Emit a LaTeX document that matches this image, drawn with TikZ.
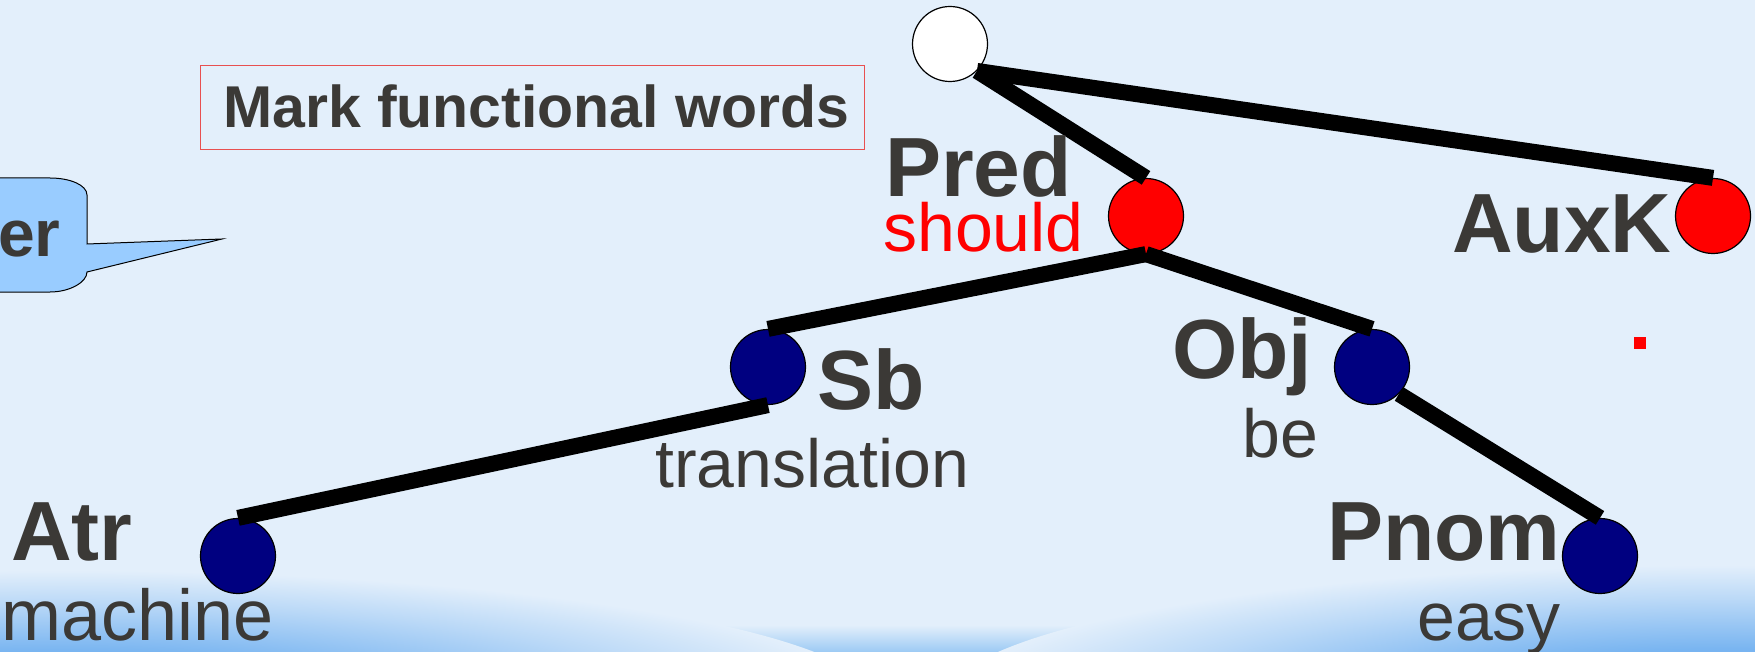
\documentclass[tikz,border=0pt]{standalone}
\usepackage{fontspec}
\setmainfont{Liberation Sans}
\definecolor{bgc}{HTML}{E3EFFB}
\definecolor{bandc}{HTML}{5EA6EE}
\definecolor{bandl}{HTML}{9CCAF4}
\definecolor{txt}{HTML}{3B3936}
\definecolor{navyc}{HTML}{000080}
\definecolor{calloutc}{HTML}{99CCFF}
\definecolor{boxred}{HTML}{E85050}
\pgfdeclareradialshading{blob}{\pgfpoint{0bp}{0bp}}{color(0bp)=(bandc); color(10bp)=(bandc!80!bgc); color(19bp)=(bandc!30!bgc); color(25bp)=(bgc); color(50bp)=(bgc)}
\tikzset{
  tnode/.style={circle, draw=black, line width=1.2pt, minimum size=75pt, inner sep=0pt},
  edge/.style={line width=16pt, line cap=butt, black},
  big/.style={anchor=base west, inner sep=0pt, text=txt, font=\fontsize{84}{84}\selectfont\bfseries},
  word/.style={anchor=base west, inner sep=0pt, text=txt, font=\fontsize{68}{68}\selectfont},
}
\begin{document}
\begin{tikzpicture}[x=1pt,y=-1pt]
\useasboundingbox (0,0) rectangle (1755,652);
\fill[bgc] (0,0) rectangle (1755,652);
% watery band at the bottom
\shade[top color=bgc, bottom color=bandl] (0,625) rectangle (1755,652);
\shade[shading=blob] (60,705) ellipse [x radius=820, y radius=135];
\shade[shading=blob] (1720,705) ellipse [x radius=780, y radius=140];
% callout
\draw[fill=calloutc, line width=1pt] (-10,178) -- (50,178) .. controls (70,178) and (87,185) .. (87,195) -- (87,244) -- (222,239) -- (87,272) .. controls (87,282) and (70,292) .. (50,292) -- (-10,292) -- cycle;
\node[anchor=base west, inner sep=0pt, text=txt, font=\fontsize{66}{66}\selectfont\bfseries] (er) at (-2,257) {er};
% title box
\node[draw=boxred, line width=1.2pt, minimum width=664pt, minimum height=84pt, inner sep=0pt, anchor=north west] (title) at (200,65) {};
\node[anchor=base west, inner sep=0pt, text=txt, font=\fontsize{59}{59}\selectfont\bfseries] (titletxt) at (223,128) {Mark functional words};
% red square
\fill[red] (1634,337) rectangle (1646,349);
% nodes
\node[tnode, fill=white] (root) at (950,44) {};
\node[tnode, fill=red] (pred) at (1146,216) {};
\node[tnode, fill=red] (auxk) at (1713,216) {};
\node[tnode, fill=navyc] (sb) at (768,367) {};
\node[tnode, fill=navyc] (obj) at (1372,367) {};
\node[tnode, fill=navyc] (atr) at (238,556) {};
\node[tnode, fill=navyc] (pnom) at (1600,556) {};
% edges
\draw[edge] (root.south east) -- (pred.north);
\draw[edge] (root.south east) -- (auxk.north);
\draw[edge] (pred.south) -- (sb.north);
\draw[edge] (pred.south) -- (obj.north);
\draw[edge] (sb.south) -- (atr.north);
\draw[edge] (obj.south east) -- (pnom.north);
% labels
\node[big] (lpred) at (885,197) {Pred};
\node[word, text=red] (wpred) at (883,252) {should};
\node[big] (lauxk) at (1452,253) {AuxK};
\node[big] (lsb) at (817,409) {Sb};
\node[word] (wsb) at (655,487) {translation};
\node[big] (lobj) at (1172,378) {Obj};
\node[word] (wobj) at (1242,457) {be};
\node[big] (latr) at (11,560) {Atr};
\node[word, font=\fontsize{72}{72}\selectfont] (watr) at (1,640) {machine};
\node[big] (lpnom) at (1327,560) {Pnom};
\node[word] (wpnom) at (1417,640) {easy};
\end{tikzpicture}
\end{document}
